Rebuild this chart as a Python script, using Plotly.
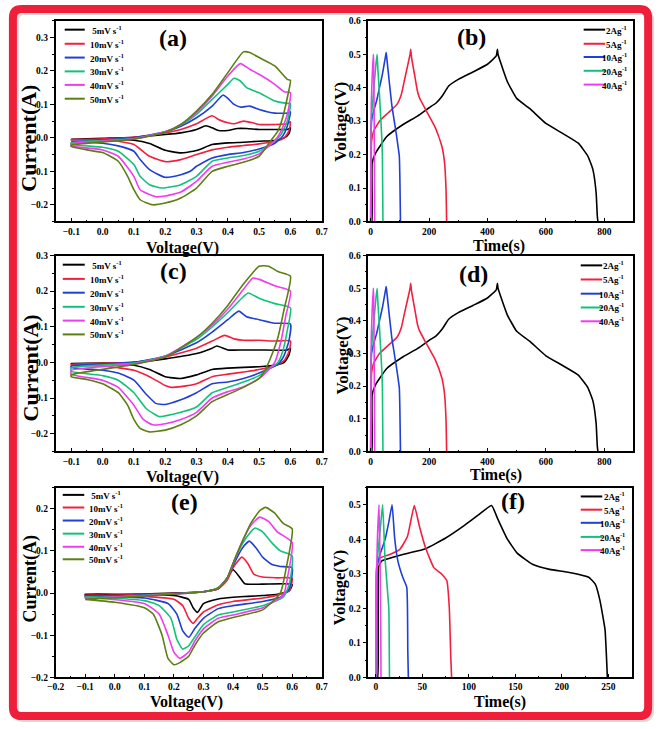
import plotly.graph_objects as go

W, H = 661, 729
SERIF = "Times New Roman, Liberation Serif, Tinos, serif"

# ---------------- data ----------------
CV_LABELS = ["\u00a05mV s", "10mV s", "20mV s", "30mV s", "40mV s", "50mV s"]
CV_COLORS = ["#000000", "#f2203e", "#1f3fd6", "#12c27a", "#f03cf0", "#5b7f10"]
GCD_LABELS = ["2Ag", "5Ag", "10Ag", "20Ag", "40Ag"]
GCD_COLORS = ["#000000", "#f2203e", "#1f3fd6", "#12c27a", "#f03cf0"]

# panel (a): (voltage V, current A) pairs, anodic (UP) and cathodic (DN) sweeps
A05_UP = [(-0.1,-0.004),(0.0,-0.001),(0.1,0.002),(0.2,0.01),(0.25,0.015),(0.3,0.025),(0.33,0.036),(0.35,0.03),(0.37,0.022),(0.4,0.022),(0.43,0.028),(0.46,0.028),(0.5,0.025),(0.55,0.025),(0.59,0.025),(0.6,0.03)]
A05_DN = [(0.6,0.03),(0.595,0.012),(0.58,0.0),(0.55,-0.008),(0.5,-0.01),(0.45,-0.013),(0.4,-0.015),(0.35,-0.02),(0.3,-0.038),(0.25,-0.045),(0.2,-0.037),(0.15,-0.017),(0.1,-0.007),(0.0,-0.004),(-0.1,-0.004)]
A10_UP = [(-0.1,-0.006),(0.0,-0.003),(0.1,0.002),(0.2,0.015),(0.25,0.025),(0.3,0.042),(0.35,0.066),(0.37,0.055),(0.4,0.045),(0.42,0.042),(0.45,0.05),(0.48,0.045),(0.5,0.04),(0.55,0.04),(0.59,0.042),(0.6,0.048)]
A10_DN = [(0.6,0.048),(0.595,0.02),(0.58,0.0),(0.55,-0.011),(0.5,-0.018),(0.45,-0.023),(0.4,-0.028),(0.35,-0.036),(0.3,-0.05),(0.25,-0.065),(0.2,-0.071),(0.15,-0.055),(0.1,-0.02),(0.05,-0.01),(0.0,-0.006),(-0.1,-0.005)]
A20_UP = [(-0.1,-0.011),(0.0,-0.006),(0.1,0.0),(0.2,0.018),(0.25,0.035),(0.3,0.06),(0.35,0.095),(0.385,0.128),(0.4,0.118),(0.42,0.1),(0.44,0.092),(0.47,0.095),(0.5,0.085),(0.55,0.074),(0.59,0.074),(0.6,0.078)]
A20_DN = [(0.6,0.078),(0.59,0.035),(0.575,0.005),(0.55,-0.016),(0.5,-0.033),(0.45,-0.044),(0.4,-0.05),(0.35,-0.06),(0.3,-0.085),(0.28,-0.1),(0.25,-0.11),(0.2,-0.118),(0.15,-0.095),(0.12,-0.065),(0.1,-0.04),(0.05,-0.024),(0.0,-0.016),(-0.1,-0.011)]
A30_UP = [(-0.1,-0.015),(0.0,-0.008),(0.1,-0.002),(0.2,0.018),(0.25,0.038),(0.3,0.07),(0.35,0.115),(0.4,0.16),(0.42,0.178),(0.44,0.17),(0.46,0.15),(0.5,0.135),(0.55,0.11),(0.59,0.103),(0.6,0.103)]
A30_DN = [(0.6,0.103),(0.59,0.05),(0.57,0.01),(0.55,-0.01),(0.5,-0.04),(0.45,-0.053),(0.4,-0.06),(0.35,-0.07),(0.3,-0.115),(0.25,-0.14),(0.19,-0.15),(0.15,-0.14),(0.12,-0.115),(0.1,-0.08),(0.05,-0.04),(0.0,-0.028),(-0.1,-0.019)]
A40_UP = [(-0.1,-0.018),(0.0,-0.01),(0.1,-0.003),(0.2,0.018),(0.25,0.04),(0.3,0.075),(0.35,0.125),(0.4,0.185),(0.44,0.222),(0.47,0.205),(0.5,0.19),(0.55,0.16),(0.58,0.138),(0.6,0.135)]
A40_DN = [(0.6,0.135),(0.59,0.07),(0.57,0.02),(0.55,-0.008),(0.5,-0.048),(0.45,-0.063),(0.4,-0.073),(0.35,-0.085),(0.3,-0.13),(0.25,-0.162),(0.2,-0.174),(0.17,-0.176),(0.12,-0.155),(0.1,-0.115),(0.05,-0.055),(0.0,-0.036),(-0.1,-0.024)]
A50_UP = [(-0.1,-0.022),(0.0,-0.012),(0.1,-0.004),(0.2,0.017),(0.25,0.04),(0.3,0.08),(0.35,0.13),(0.4,0.195),(0.45,0.257),(0.47,0.255),(0.5,0.24),(0.55,0.215),(0.59,0.175),(0.6,0.172)]
A50_DN = [(0.6,0.172),(0.59,0.12),(0.575,0.06),(0.56,0.02),(0.54,-0.005),(0.5,-0.055),(0.45,-0.073),(0.4,-0.085),(0.35,-0.1),(0.3,-0.15),(0.25,-0.18),(0.2,-0.195),(0.16,-0.2),(0.12,-0.185),(0.1,-0.155),(0.08,-0.115),(0.05,-0.07),(0.0,-0.044),(-0.05,-0.036),(-0.1,-0.026)]

# panel (c)
C05_UP = [(-0.1,-0.003),(0.1,0.0),(0.2,0.01),(0.3,0.025),(0.35,0.04),(0.365,0.046),(0.4,0.035),(0.45,0.035),(0.5,0.035),(0.59,0.035),(0.6,0.04)]
C05_DN = [(0.6,0.04),(0.595,0.02),(0.58,0.0),(0.55,-0.008),(0.5,-0.012),(0.4,-0.016),(0.35,-0.02),(0.3,-0.035),(0.25,-0.045),(0.2,-0.04),(0.15,-0.02),(0.1,-0.008),(0.0,-0.004),(-0.1,-0.003)]
C10_UP = [(-0.1,-0.005),(0.1,0.0),(0.2,0.015),(0.3,0.04),(0.35,0.06),(0.39,0.076),(0.42,0.066),(0.45,0.062),(0.5,0.062),(0.55,0.06),(0.6,0.06)]
C10_DN = [(0.6,0.06),(0.595,0.03),(0.58,0.005),(0.55,-0.01),(0.5,-0.02),(0.45,-0.027),(0.4,-0.033),(0.35,-0.04),(0.3,-0.06),(0.25,-0.068),(0.22,-0.07),(0.2,-0.065),(0.15,-0.04),(0.1,-0.022),(0.05,-0.015),(0.0,-0.01),(-0.1,-0.007)]
C20_UP = [(-0.1,-0.01),(0.1,0.0),(0.2,0.018),(0.3,0.055),(0.35,0.085),(0.4,0.12),(0.435,0.144),(0.46,0.128),(0.5,0.12),(0.55,0.11),(0.6,0.108)]
C20_DN = [(0.6,0.108),(0.595,0.06),(0.58,0.02),(0.56,-0.005),(0.5,-0.03),(0.45,-0.045),(0.4,-0.055),(0.35,-0.06),(0.3,-0.085),(0.25,-0.105),(0.2,-0.118),(0.17,-0.115),(0.14,-0.09),(0.1,-0.05),(0.05,-0.03),(0.0,-0.022),(-0.1,-0.014)]
C30_UP = [(-0.1,-0.015),(0.1,-0.002),(0.2,0.018),(0.3,0.065),(0.35,0.1),(0.4,0.14),(0.45,0.185),(0.465,0.195),(0.5,0.18),(0.55,0.165),(0.6,0.153)]
C30_DN = [(0.6,0.153),(0.59,0.09),(0.575,0.03),(0.56,0.0),(0.52,-0.025),(0.5,-0.037),(0.45,-0.055),(0.4,-0.07),(0.35,-0.085),(0.3,-0.125),(0.25,-0.14),(0.2,-0.15),(0.18,-0.152),(0.14,-0.13),(0.1,-0.085),(0.05,-0.05),(0.0,-0.037),(-0.1,-0.025)]
C40_UP = [(-0.1,-0.022),(0.1,-0.004),(0.2,0.017),(0.3,0.07),(0.35,0.105),(0.4,0.15),(0.45,0.205),(0.48,0.237),(0.5,0.233),(0.55,0.215),(0.6,0.2)]
C40_DN = [(0.6,0.2),(0.585,0.13),(0.57,0.06),(0.55,0.0),(0.52,-0.03),(0.5,-0.045),(0.45,-0.068),(0.4,-0.082),(0.35,-0.1),(0.3,-0.14),(0.25,-0.16),(0.2,-0.172),(0.16,-0.175),(0.13,-0.16),(0.1,-0.12),(0.05,-0.07),(0.0,-0.05),(-0.1,-0.033)]
C50_UP = [(-0.1,-0.035),(0.1,-0.006),(0.2,0.015),(0.3,0.07),(0.35,0.11),(0.4,0.16),(0.45,0.22),(0.5,0.27),(0.53,0.27),(0.56,0.255),(0.6,0.242)]
C50_DN = [(0.6,0.242),(0.58,0.15),(0.56,0.07),(0.54,0.02),(0.52,-0.02),(0.5,-0.045),(0.45,-0.07),(0.4,-0.09),(0.35,-0.11),(0.3,-0.15),(0.25,-0.175),(0.2,-0.19),(0.15,-0.195),(0.12,-0.185),(0.1,-0.16),(0.08,-0.12),(0.05,-0.085),(0.0,-0.06),(-0.05,-0.048),(-0.1,-0.04)]

# panel (e)
E05_UP = [(-0.1,-0.004),(0.2,0.0),(0.3,0.003),(0.35,0.01),(0.38,0.035),(0.4,0.055),(0.42,0.04),(0.44,0.022),(0.5,0.021),(0.6,0.02)]
E05_DN = [(0.6,0.02),(0.59,0.005),(0.55,-0.003),(0.5,-0.006),(0.45,-0.008),(0.4,-0.01),(0.35,-0.014),(0.3,-0.025),(0.28,-0.046),(0.265,-0.035),(0.25,-0.015),(0.2,-0.006),(0.1,-0.004),(-0.1,-0.003)]
E10_UP = [(-0.1,-0.006),(0.3,0.003),(0.35,0.01),(0.38,0.03),(0.4,0.06),(0.43,0.085),(0.45,0.07),(0.47,0.045),(0.5,0.038),(0.55,0.036),(0.6,0.035)]
E10_DN = [(0.6,0.035),(0.59,0.005),(0.55,-0.005),(0.5,-0.012),(0.4,-0.02),(0.35,-0.028),(0.3,-0.045),(0.28,-0.06),(0.265,-0.072),(0.25,-0.06),(0.23,-0.03),(0.2,-0.015),(0.1,-0.008),(-0.1,-0.005)]
E20_UP = [(-0.1,-0.008),(0.3,0.003),(0.35,0.012),(0.38,0.035),(0.4,0.065),(0.43,0.105),(0.455,0.123),(0.48,0.105),(0.5,0.085),(0.53,0.068),(0.56,0.063),(0.6,0.06)]
E20_DN = [(0.6,0.06),(0.59,0.01),(0.56,-0.01),(0.5,-0.02),(0.4,-0.03),(0.35,-0.037),(0.3,-0.06),(0.27,-0.085),(0.25,-0.105),(0.23,-0.09),(0.21,-0.05),(0.18,-0.025),(0.1,-0.012),(-0.1,-0.007)]
E30_UP = [(-0.1,-0.01),(0.3,0.003),(0.35,0.012),(0.38,0.035),(0.4,0.07),(0.43,0.115),(0.46,0.145),(0.475,0.154),(0.5,0.145),(0.53,0.12),(0.56,0.1),(0.6,0.088)]
E30_DN = [(0.6,0.088),(0.59,0.02),(0.57,-0.01),(0.5,-0.03),(0.4,-0.045),(0.35,-0.052),(0.3,-0.075),(0.27,-0.105),(0.25,-0.125),(0.23,-0.133),(0.21,-0.11),(0.19,-0.06),(0.15,-0.03),(0.1,-0.018),(-0.1,-0.009)]
E40_UP = [(-0.1,-0.012),(0.3,0.003),(0.35,0.012),(0.38,0.035),(0.4,0.07),(0.43,0.12),(0.46,0.16),(0.49,0.18),(0.52,0.17),(0.55,0.145),(0.6,0.12)]
E40_DN = [(0.6,0.12),(0.585,0.04),(0.57,-0.005),(0.5,-0.035),(0.4,-0.052),(0.35,-0.06),(0.3,-0.085),(0.27,-0.115),(0.25,-0.14),(0.22,-0.155),(0.2,-0.14),(0.18,-0.1),(0.15,-0.05),(0.1,-0.025),(-0.1,-0.011)]
E50_UP = [(-0.1,-0.015),(0.3,0.003),(0.35,0.012),(0.38,0.035),(0.4,0.07),(0.43,0.12),(0.46,0.165),(0.49,0.195),(0.51,0.203),(0.54,0.19),(0.57,0.165),(0.6,0.152)]
E50_DN = [(0.6,0.152),(0.58,0.06),(0.56,0.0),(0.5,-0.04),(0.4,-0.058),(0.35,-0.068),(0.3,-0.095),(0.27,-0.125),(0.25,-0.15),(0.22,-0.165),(0.2,-0.17),(0.18,-0.155),(0.16,-0.1),(0.13,-0.05),(0.1,-0.035),(0.0,-0.022),(-0.1,-0.015)]

# panel (b) galvanostatic charge/discharge: (time s, voltage V)
B02 = [(0,0.0),(4,0.0),(5,0.175),(17,0.205),(55,0.254),(111,0.29),(160,0.315),(200,0.34),(225,0.355),(245,0.375),(267,0.405),(300,0.425),(350,0.447),(400,0.47),(430,0.495),(434,0.515),(436,0.5),(445,0.475),(467,0.42),(500,0.368),(544,0.338),(600,0.293),(656,0.264),(711,0.234),(744,0.195),(761,0.155),(772,0.086),(776,0.017),(778,0.0)]
B05 = [(0,0.0),(2,0.05),(3,0.24),(10,0.27),(30,0.3),(60,0.325),(90,0.35),(105,0.38),(115,0.42),(125,0.46),(135,0.5),(137,0.515),(140,0.49),(150,0.44),(160,0.39),(167,0.37),(189,0.333),(222,0.279),(244,0.224),(253,0.175),(258,0.096),(260,0.0)]
B10 = [(0,0.0),(1,0.25),(3,0.3),(10,0.33),(20,0.36),(30,0.4),(40,0.44),(50,0.49),(53,0.505),(55,0.49),(72,0.35),(89,0.254),(98,0.195),(100,0.125),(102,0.0)]
B20 = [(0,0.0),(1,0.28),(3,0.32),(8,0.37),(13,0.42),(18,0.47),(22,0.5),(25,0.45),(30,0.38),(35,0.3),(38,0.25),(40,0.2),(41,0.1),(42,0.0)]
B40 = [(0,0.0),(1,0.2),(2,0.35),(5,0.43),(9,0.5),(10,0.48),(12,0.3),(13,0.1),(13.5,0.0)]

# panel (d) repeats the curves of panel (b)
D02, D05, D10, D20, D40 = B02, B05, B10, B20, B40

# panel (f)
F02 = [(0,0.0),(2,0.0),(3,0.32),(6.3,0.337),(29,0.356),(53.6,0.373),(74.7,0.403),(95.7,0.441),(110,0.47),(124.5,0.498),(131,0.46),(141,0.403),(152,0.36),(169,0.327),(187,0.313),(208,0.304),(229,0.29),(236,0.27),(241,0.223),(246.5,0.138),(248,0.062),(249,0.0)]
F05 = [(0,0.0),(1,0.04),(2,0.33),(4.5,0.346),(15,0.356),(25.6,0.37),(34,0.408),(41.4,0.498),(46.6,0.441),(53.6,0.375),(62.4,0.318),(71,0.299),(76.4,0.28),(79,0.204),(80.6,0.062),(81.5,0.0)]
F10 = [(0,0.0),(0.5,0.08),(1,0.32),(5,0.36),(10,0.4),(14,0.45),(17.5,0.5),(20.3,0.403),(23.8,0.337),(29,0.29),(33.3,0.261),(34.4,0.08),(35,0.0)]
F20 = [(0,0.0),(0.5,0.3),(3,0.38),(5.5,0.45),(7.4,0.5),(9.8,0.35),(12.6,0.25),(14,0.2),(14.7,0.0)]
F40 = [(0,0.0),(0.5,0.2),(1.5,0.38),(3.5,0.5),(4.5,0.35),(5.3,0.15),(5.6,0.0)]

CV_A = [(A05_UP, A05_DN), (A10_UP, A10_DN), (A20_UP, A20_DN), (A30_UP, A30_DN), (A40_UP, A40_DN), (A50_UP, A50_DN)]
CV_C = [(C05_UP, C05_DN), (C10_UP, C10_DN), (C20_UP, C20_DN), (C30_UP, C30_DN), (C40_UP, C40_DN), (C50_UP, C50_DN)]
CV_E = [(E05_UP, E05_DN), (E10_UP, E10_DN), (E20_UP, E20_DN), (E30_UP, E30_DN), (E40_UP, E40_DN), (E50_UP, E50_DN)]
GCD_B = [B02, B05, B10, B20, B40]
GCD_D = [D02, D05, D10, D20, D40]
GCD_F = [F02, F05, F10, F20, F40]

# ---------------- layout helpers ----------------
def px(x):
    return x / W

def py(y):
    return 1 - y / H

# panel boxes in pixels: (left, right, top, bottom)
PANELS = {
    "a": dict(box=(47.7, 320, 16, 219.5), xr=[-0.15, 0.7], yr=[-0.25, 0.35], xd=0.1, yd=0.1, xf=".1f", yf=".1f"),
    "b": dict(box=(367.7, 639, 16, 219.5), xr=[-8, 900], yr=[0, 0.6], xd=200, yd=0.1, xf="d", yf=".1f"),
    "c": dict(box=(47.7, 320, 254, 452.7), xr=[-0.15, 0.7], yr=[-0.25, 0.3], xd=0.1, yd=0.1, xf=".1f", yf=".1f"),
    "d": dict(box=(367.7, 639, 254, 452.7), xr=[-8, 900], yr=[0, 0.6], xd=200, yd=0.1, xf="d", yf=".1f"),
    "e": dict(box=(47.7, 320, 489.3, 681.7), xr=[-0.2, 0.7], yr=[-0.2, 0.25], xd=0.1, yd=0.1, xf=".1f", yf=".1f"),
    "f": dict(box=(367.7, 637, 489.3, 681.7), xr=[-8, 275], yr=[0, 0.55], xd=50, yd=0.1, xf="d", yf=".1f"),
}
ORDER = ["a", "b", "c", "d", "e", "f"]

fig = go.Figure()
layout = dict(
    width=W, height=H, margin=dict(l=0, r=0, t=0, b=0),
    paper_bgcolor="white", plot_bgcolor="white", showlegend=False,
)

tickfont = dict(family=SERIF, size=9.5, color="black", weight="bold")
for i, key in enumerate(ORDER, start=1):
    p = PANELS[key]
    l, r, t, b = p["box"]
    xa = "xaxis" if i == 1 else f"xaxis{i}"
    ya = "yaxis" if i == 1 else f"yaxis{i}"
    layout[xa] = dict(
        domain=[px(l), px(r)], range=p["xr"], anchor=f"y{'' if i == 1 else i}",
        showline=True, linecolor="black", linewidth=1.5, mirror=True,
        showgrid=False, zeroline=False, ticks="inside", ticklen=4, tickwidth=1.2, tickcolor="black",
        dtick=p["xd"], tick0=0, tickformat=p["xf"], tickfont=tickfont,
        minor=dict(ticks="inside", ticklen=2, tickcolor="black", dtick=p["xd"] / 2, tick0=0),
    )
    layout[ya] = dict(
        domain=[py(b), py(t)], range=p["yr"], anchor=f"x{'' if i == 1 else i}",
        showline=True, linecolor="black", linewidth=1.5, mirror=True,
        showgrid=False, zeroline=False, ticks="outside", ticklen=4, tickwidth=1.2, tickcolor="black",
        dtick=p["yd"], tick0=0, tickformat=p["yf"], tickfont=tickfont,
        minor=dict(ticks="outside", ticklen=2, tickcolor="black", dtick=p["yd"] / 2, tick0=0),
    )

def axes_of(key):
    i = ORDER.index(key) + 1
    s = "" if i == 1 else str(i)
    return "x" + s, "y" + s

# CV traces
for key, curves in (("a", CV_A), ("c", CV_C), ("e", CV_E)):
    xr_, yr_ = axes_of(key)
    for (up, dn), col in zip(curves, CV_COLORS):
        pts = up + dn[1:] + [up[0]]
        fig.add_trace(go.Scatter(
            x=[v for v, _ in pts], y=[c for _, c in pts], mode="lines",
            xaxis=xr_, yaxis=yr_,
            line=dict(color=col, width=1.6, shape="spline", smoothing=0.5),
            hoverinfo="skip",
        ))

# GCD traces
for key, curves in (("b", GCD_B), ("d", GCD_D), ("f", GCD_F)):
    xr_, yr_ = axes_of(key)
    for pts, col in zip(curves, GCD_COLORS):
        fig.add_trace(go.Scatter(
            x=[t for t, _ in pts], y=[v for _, v in pts], mode="lines",
            xaxis=xr_, yaxis=yr_,
            line=dict(color=col, width=1.6, shape="spline", smoothing=0.4),
            hoverinfo="skip",
        ))

annotations = []
shapes = []

def text(x, y, s, size, angle=0, xanchor="center", yanchor="middle"):
    annotations.append(dict(
        x=px(x), y=py(y), xref="paper", yref="paper", text=s, showarrow=False,
        xanchor=xanchor, yanchor=yanchor, textangle=angle,
        font=dict(family=SERIF, size=size, color="black", weight="bold"),
    ))

# panel labels
for lab, (x, y) in zip(ORDER, [(168, 33), (473, 32), (168, 270), (475, 273), (180, 504), (516, 503)]):
    text(x, y, f"({lab})", 24)

# axis titles
text(20, 135, "Current(A)", 22, angle=-90)
text(22, 368, "Current(A)", 22, angle=-90)
text(21, 582, "Current(A)", 18, angle=-90)
text(339, 118, "Voltage(V)", 17.5, angle=-90)
text(341, 355, "Voltage(V)", 17, angle=-90)
text(339, 591, "Voltage(V)", 16.5, angle=-90)
text(178, 246, "Voltage(V)", 16)
text(178, 479, "Voltage(V)", 16)
text(182, 707, "Voltage(V)", 16)
text(501, 244, "Time(s)", 16)
text(498, 477, "Time(s)", 16)
text(502, 707, "Time(s)", 16)

# legends (left CV panels)
CV_LEG = [((57, 77.5, 81), [25, 39.3, 53.3, 67.3, 81, 95]),
          ((55, 77.5, 81), [263.3, 277.7, 291.7, 306, 320, 334]),
          ((55, 77, 80), [496.7, 509.5, 522.7, 536, 549.3, 562])]
for (x0, x1, xt), rows in CV_LEG:
    for lab, col, y in zip(CV_LABELS, CV_COLORS, rows):
        shapes.append(dict(type="line", xref="paper", yref="paper", x0=px(x0), x1=px(x1), y0=py(y), y1=py(y),
                           line=dict(color=col, width=2)))
        text(xt, y, f"{lab}<sup>-1</sup>", 9, xanchor="left")

GCD_LEG = [((588, 610, 634), [25, 39.3, 52.7, 66.7, 80.7]),
           ((585, 607, 631), [264, 278.3, 292.7, 306.7, 320.7]),
           ((585, 607, 632), [498.3, 511.7, 525, 539.3, 552.7])]
for (x0, x1, xt), rows in GCD_LEG:
    for lab, col, y in zip(GCD_LABELS, GCD_COLORS, rows):
        shapes.append(dict(type="line", xref="paper", yref="paper", x0=px(x0), x1=px(x1), y0=py(y), y1=py(y),
                           line=dict(color=col, width=2)))
        text(xt, y, f"{lab}<sup>-1</sup>", 9, xanchor="right")

# red rounded frame with a faint grey shadow
def P(x, y):
    return f"{px(x):.5f},{py(y):.5f}"

def rounded(x0, y0, x1, y1, r):
    return (f"M {P(x0 + r, y0)} L {P(x1 - r, y0)} Q {P(x1, y0)} {P(x1, y0 + r)} "
            f"L {P(x1, y1 - r)} Q {P(x1, y1)} {P(x1 - r, y1)} L {P(x0 + r, y1)} "
            f"Q {P(x0, y1)} {P(x0, y1 - r)} L {P(x0, y0 + r)} Q {P(x0, y0)} {P(x0 + r, y0)} Z")

shapes.append(dict(type="path", xref="paper", yref="paper", path=rounded(7, 7, 657, 724, 9),
                   line=dict(color="#d9d9d9", width=6), fillcolor="rgba(0,0,0,0)", layer="above"))
shapes.append(dict(type="path", xref="paper", yref="paper", path=rounded(4, 4, 654, 721, 9),
                   line=dict(color="#ef1f3c", width=8), fillcolor="rgba(0,0,0,0)", layer="above"))

layout["annotations"] = annotations
layout["shapes"] = shapes
fig.update_layout(**layout)
fig.write_html("out.html")
